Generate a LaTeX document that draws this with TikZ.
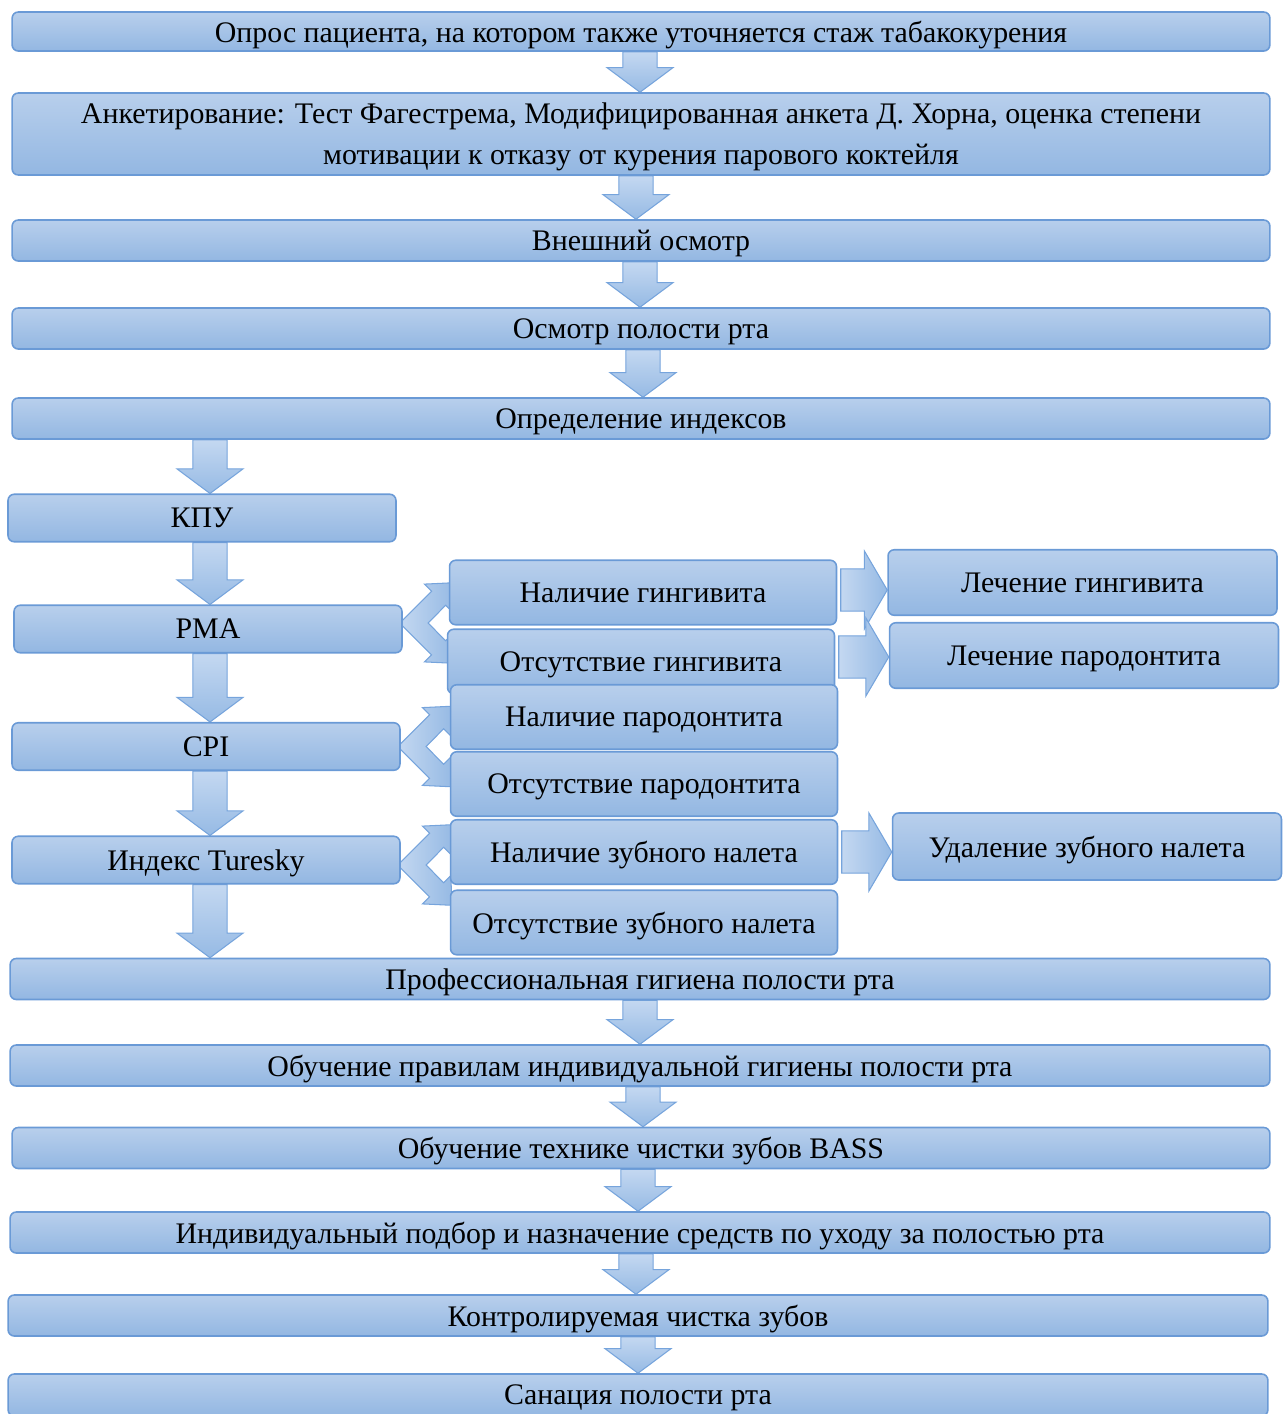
\documentclass[tikz,border=0pt]{standalone}
\usepackage{fontspec}
\setmainfont{Liberation Serif}
\usetikzlibrary{calc}

\pgfdeclarelayer{background}
\pgfsetlayers{background,main}

\definecolor{boxtop}{RGB}{184,207,236}
\definecolor{boxbot}{RGB}{147,183,226}
\definecolor{boxline}{RGB}{106,154,214}
\definecolor{arrtop}{RGB}{196,216,241}
\definecolor{arrbot}{RGB}{150,186,228}
\definecolor{arrline}{RGB}{118,164,220}

\def\sw{9.7pt}\def\hw{18.8pt}\def\hl{14pt}
\def\rsw{12pt}\def\rhw{22.2pt}\def\rhl{13pt}

\newcommand{\flowdown}[3]{%
    \path[downfill] let \p1=(#1.south), \p2=(#2.north), \p3=(#3,0) in
        (\x3-\sw,\y1) -- (\x3+\sw,\y1) -- (\x3+\sw,\y2+\hl) -- (\x3+\hw,\y2+\hl)
        -- (\x3,\y2) -- (\x3-\hw,\y2+\hl) -- (\x3-\sw,\y2+\hl) -- cycle;}

\newcommand{\flowright}[3]{%
    \path[sidefill] let \p1=(#1.east), \p2=(#2.west), \p3=(0,#3) in
        (\x1+2pt,\y3+\rsw) -- (\x2-\rhl,\y3+\rsw) -- (\x2-\rhl,\y3+\rhw) -- (\x2,\y3)
        -- (\x2-\rhl,\y3-\rhw) -- (\x2-\rhl,\y3-\rsw) -- (\x1+2pt,\y3-\rsw) -- cycle;}

\newcommand{\flowfork}[2]{%
    \path[sidefill, shift={($(#1.east)+(-3,#2)$)}]
        (0,0) -- (31.8,-31.8) -- (24.7,-38.9) -- (54.4,-40.3) -- (53,-10.6)
        -- (45.9,-17.7) -- (28.3,0) -- (45.9,17.7) -- (53,10.6) -- (54.4,40.3)
        -- (24.7,38.9) -- (31.8,31.8) -- cycle;}

\begin{document}
\begin{tikzpicture}[
    x=0.02cm,
    y=-0.02cm,
    box/.style={
        draw=boxline,
        line width=0.9pt,
        rounded corners=3.5pt,
        top color=boxtop,
        bottom color=boxbot,
        inner sep=0pt,
        text depth=0pt,
        align=center,
        font=\fontsize{17}{20.4}\selectfont
    },
    wide/.style={box, minimum width=25.16cm, minimum height=0.82cm},
    side/.style={box, minimum width=7.76cm, minimum height=0.95cm},
    mid/.style={box, minimum width=7.74cm, minimum height=1.29cm},
    outcome/.style={box, minimum width=7.78cm, minimum height=1.31cm},
    downfill/.style={
        draw=arrline,
        line width=0.6pt,
        top color=arrtop,
        bottom color=arrbot
    },
    sidefill/.style={
        draw=arrline,
        line width=0.6pt,
        left color=arrtop,
        right color=arrbot
    }
    ]
    \useasboundingbox (0,0) rectangle (1284,1414);
    \clip (0,0) rectangle (1284,1414);

    \node[wide, minimum height=0.78cm] (SURVEY) at (641,31.5)
        {Опрос пациента, на котором также уточняется стаж табакокурения};
    \node[wide, minimum height=1.64cm] (QUEST) at (641,134)
        {Анкетирование: Тест Фагестрема, Модифицированная анкета Д. Хорна, оценка степени\\[2.9pt]мотивации к отказу от курения парового коктейля};
    \node[wide] (EXTERN) at (641,240.5) {Внешний осмотр};
    \node[wide] (MOUTH)  at (641,328.5) {Осмотр полости рта};
    \node[wide] (INDEX)  at (641,418.5) {Определение индексов};

    \node[side] (KPU) at (202,518)   {КПУ};
    \node[side] (PMA) at (208,629)   {РМА};
    \node[side] (CPI) at (206,746.5) {CPI};
    \node[side] (TUR) at (206,860)   {Индекс Turesky};

    \node[mid] (GINGY) at (643,592.5) {Наличие гингивита};
    \node[mid] (GINGN) at (641,661.5) {Отсутствие гингивита};
    \node[mid] (PARY)  at (644,717)   {Наличие пародонтита};
    \node[mid] (PARN)  at (644,784)   {Отсутствие пародонтита};
    \node[mid] (PLAQY) at (644,852)   {Наличие зубного налета};
    \node[mid] (PLAQN) at (644,922.5) {Отсутствие зубного налета};

    \node[outcome] (TGING) at (1082.5,582.5) {Лечение гингивита};
    \node[outcome] (TPAR)  at (1084,655.5)   {Лечение пародонтита};
    \node[outcome, minimum height=1.34cm] (RPLAQ) at (1087,846.5) {Удаление зубного налета};

    \node[wide, minimum width=25.2cm] (PROF)    at (640,979)    {Профессиональная гигиена полости рта};
    \node[wide, minimum width=25.2cm] (TEACH)   at (640,1065.5) {Обучение правилам индивидуальной гигиены полости рта};
    \node[wide] (BASS)                          at (641,1148)   {Обучение технике чистки зубов BASS};
    \node[wide, minimum width=25.2cm] (SELECT)  at (640,1232.5) {Индивидуальный подбор и назначение средств по уходу за полостью рта};
    \node[wide, minimum width=25.2cm] (CONTROL) at (638,1315.5) {Контролируемая чистка зубов};
    \node[wide, minimum width=25.2cm, minimum height=0.84cm] (SANAT) at (638,1395) {Санация полости рта};

    \begin{pgfonlayer}{background}
    \flowdown{SURVEY}{QUEST}{640}
    \flowdown{QUEST}{EXTERN}{636}
    \flowdown{EXTERN}{MOUTH}{640}
    \flowdown{MOUTH}{INDEX}{643}
    \flowdown{INDEX}{KPU}{210}
    \flowdown{KPU}{PMA}{210}
    \flowdown{PMA}{CPI}{210}
    \flowdown{CPI}{TUR}{210}
    \flowdown{TUR}{PROF}{210}
    \flowdown{PROF}{TEACH}{640}
    \flowdown{TEACH}{BASS}{643}
    \flowdown{BASS}{SELECT}{638}
    \flowdown{SELECT}{CONTROL}{636}
    \flowdown{CONTROL}{SANAT}{638}

    \flowfork{PMA}{-6}
    \flowfork{CPI}{0}
    \flowfork{TUR}{5}

    \flowright{GINGY}{TGING}{590}
    \flowright{GINGN}{TPAR}{657}
    \flowright{PLAQY}{RPLAQ}{852}
    \end{pgfonlayer}
\end{tikzpicture}
\end{document}
